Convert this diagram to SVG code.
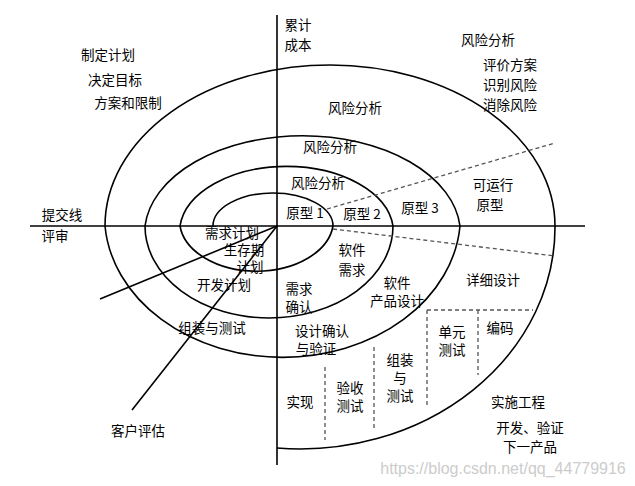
<svg xmlns="http://www.w3.org/2000/svg" width="635" height="486" viewBox="0 0 635 486">
<style>
.l{fill:none;stroke:#000;stroke-width:1.6}
.d{fill:none;stroke:#555;stroke-width:1.3;stroke-dasharray:4,3}
text{font-family:"Noto Sans CJK SC","Liberation Sans",sans-serif;font-size:13.5px;fill:#000;text-anchor:middle}
.w{fill:#ccc;font-family:"Liberation Sans",sans-serif;font-size:16px}
</style>
<rect width="635" height="486" fill="#fff"/>
<g id="connectors">
<line class="l" x1="277" y1="15" x2="277" y2="465"/>
<line class="l" x1="30" y1="226" x2="585" y2="226"/>
<path class="l" d="M213,226 A60,33 0 0 1 333,226 A77,51 0 0 1 180,226 A107,66 0 0 1 393,226 A124,92 0 0 1 145,226 A158,98 0 0 1 460,226 A178,142 0 0 1 105,226 A225,161 0 0 1 555,226 A255,222 0 0 1 277,448"/>
<line class="l" x1="277" y1="226" x2="100" y2="299"/>
<line class="l" x1="277" y1="226" x2="132" y2="410"/>
<line class="d" x1="327" y1="209" x2="555" y2="143"/>
<line class="d" x1="333" y1="229" x2="555" y2="256"/>
<line class="d" x1="325" y1="367" x2="325" y2="440"/>
<line class="d" x1="374" y1="347" x2="374" y2="430"/>
<line class="d" x1="427" y1="310" x2="427" y2="408"/>
<line class="d" x1="478" y1="310" x2="478" y2="375"/>
<line class="d" x1="427" y1="310" x2="533" y2="310"/>
</g>
<g id="labels">
<text x="298" y="30">累计</text><text x="298" y="50">成本</text>
<text x="108" y="60">制定计划</text><text x="115" y="85">决定目标</text><text x="128" y="108">方案和限制</text>
<text x="488" y="45">风险分析</text><text x="510" y="70">评价方案</text><text x="510" y="90">识别风险</text><text x="510" y="110">消除风险</text>
<text x="355" y="113">风险分析</text><text x="330" y="152">风险分析</text><text x="318" y="188">风险分析</text>
<text x="305" y="218">原型 1</text><text x="362" y="219">原型 2</text><text x="420" y="213">原型 3</text>
<text x="493" y="190">可运行</text><text x="490" y="210">原型</text>
<text x="62" y="220">提交线</text><text x="55" y="241">评审</text>
<text x="232" y="238">需求计划</text><text x="244" y="255">生存期</text><text x="250" y="272">计划</text>
<text x="224" y="290">开发计划</text>
<text x="352" y="255">软件</text><text x="352" y="275">需求</text>
<text x="299" y="294">需求</text><text x="299" y="312">确认</text>
<text x="397" y="288">软件</text><text x="397" y="306">产品设计</text>
<text x="493" y="285">详细设计</text>
<text x="212" y="333">组装与测试</text>
<text x="322" y="336">设计确认</text><text x="316" y="354">与验证</text>
<text x="452" y="337">单元</text><text x="452" y="355">测试</text><text x="500" y="333">编码</text>
<text x="400" y="365">组装</text><text x="400" y="383">与</text><text x="400" y="401">测试</text>
<text x="350" y="393">验收</text><text x="350" y="411">测试</text><text x="300" y="407">实现</text>
<text x="518" y="407">实施工程</text><text x="530" y="433">开发、验证</text><text x="530" y="452">下一产品</text>
<text x="138" y="436">客户评估</text>
<text class="w" x="503" y="474">https://blog.csdn.net/qq_44779916</text>
</g>
</svg>
